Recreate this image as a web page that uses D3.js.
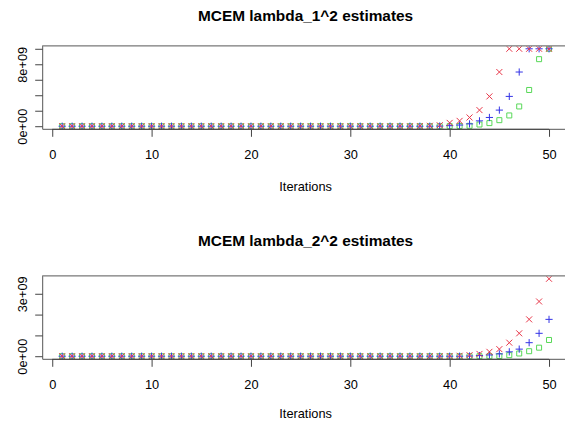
<!DOCTYPE html>
<html>
<head>
<meta charset="utf-8">
<script src="https://cdn.jsdelivr.net/npm/d3@7"></script>
<style>
  body { margin: 0; background: #fff; }
  svg { display: block; }
  text { font-family: "Liberation Sans", Arial, Helvetica, sans-serif; fill: #000; }
</style>
</head>
<body>
<svg id="chart" width="565" height="425"></svg>
<script>
// Iteration numbers shared by both panels
const iterations = [1,2,3,4,5,6,7,8,9,10,11,12,13,14,15,16,17,18,19,20,
                    21,22,23,24,25,26,27,28,29,30,31,32,33,34,35,36,37,38,39,40,
                    41,42,43,44,45,46,47,48,49,50];

// lambda_1^2 estimates per chain (iterations 1..50)
const lambda1Red = [0,0,0,0,0,0,0,0,0,0, 0,0,0,0,0,0,0,0,0,0,
                    0,0,0,0,0,0,0,0,0,0, 0,0,0,0,0,0,0.02e9,0.05e9,0.12e9,0.43e9,
                    0.69e9,1.13e9,2.08e9,3.85e9,7.0e9,1e10,1e10,1e10,1e10,1e10];
const lambda1Blue = [0,0,0,0,0,0,0,0,0,0, 0,0,0,0,0,0,0,0,0,0,
                     0,0,0,0,0,0,0,0,0,0, 0,0,0,0,0,0,0,0,0.02e9,0.07e9,
                     0.15e9,0.3e9,0.69e9,1.13e9,2.08e9,3.85e9,7.0e9,1e10,1e10,1e10];
const lambda1Green = [0,0,0,0,0,0,0,0,0,0, 0,0,0,0,0,0,0,0,0,0,
                      0,0,0,0,0,0,0,0,0,0, 0,0,0,0,0,0,0,0,0,0.01e9,
                      0.02e9,0.05e9,0.22e9,0.4e9,0.78e9,1.39e9,2.55e9,4.68e9,8.66e9,1e10];

// lambda_2^2 estimates per chain (iterations 1..50)
const lambda2Red = [0,0,0,0,0,0,0,0,0,0, 0,0,0,0,0,0,0,0,0,0,
                    0,0,0,0,0,0,0,0,0,0, 0,0,0,0,0,0,0,0,0,0.01e9,
                    0.02e9,0.05e9,0.11e9,0.21e9,0.34e9,0.65e9,1.10e9,1.77e9,2.63e9,3.72e9];
const lambda2Blue = [0,0,0,0,0,0,0,0,0,0, 0,0,0,0,0,0,0,0,0,0,
                     0,0,0,0,0,0,0,0,0,0, 0,0,0,0,0,0,0,0,0,0,
                     0,0.01e9,0.03e9,0.06e9,0.11e9,0.21e9,0.34e9,0.65e9,1.10e9,1.77e9];
const lambda2Green = [0,0,0,0,0,0,0,0,0,0, 0,0,0,0,0,0,0,0,0,0,
                      0,0,0,0,0,0,0,0,0,0, 0,0,0,0,0,0,0,0,0,0,
                      0,0,0,0,0.01e9,0.05e9,0.13e9,0.24e9,0.41e9,0.78e9];

// Axis ticks and their printed labels (empty strings leave a bare tick)
const xTicks = [0, 10, 20, 30, 40, 50];
const y1Ticks = [0, 2e9, 4e9, 6e9, 8e9, 1e10];
const y1TickLabels = ["0e+00", "", "", "", "8e+09", ""];
const y2Ticks = [0, 1e9, 2e9, 3e9];
const y2TickLabels = ["0e+00", "", "", "3e+09"];

const titles = ["MCEM lambda_1^2 estimates", "MCEM lambda_2^2 estimates"];
const xLabel = "Iterations";

const colors = { red: "#e8384a", blue: "#3434e6", green: "#58d858" };

const panels = [
  { title: titles[0], red: lambda1Red, blue: lambda1Blue, green: lambda1Green,
    ticks: y1Ticks, labels: y1TickLabels, boxShift: 0, titleShift: 0, labelShift: 0 },
  { title: titles[1], red: lambda2Red, blue: lambda2Blue, green: lambda2Green,
    ticks: y2Ticks, labels: y2TickLabels, boxShift: 230, titleShift: 225, labelShift: 227 }
];

const svg = d3.select("#chart");
svg.append("rect").attr("width", 565).attr("height", 425).attr("fill", "#fff");

// Plot region (the right edge runs slightly past the canvas)
const left = 42.7, right = 568.5;
const axisFont = 12.8, titleFont = 15.4;

// R-style padded range: extend the data range by 4% on each side
function padded(values) {
  const [lo, hi] = d3.extent(values);
  const pad = (hi - lo) * 0.04;
  return [lo - pad, hi + pad];
}

const x = d3.scaleLinear().domain(padded(iterations)).range([left, right]);

const symbols = {
  plus: "M-3.6,0H3.6M0,-3.6V3.6",
  cross: "M-3,-3L3,3M-3,3L3,-3",
  square: "M-2.5,-2.5H2.5V2.5H-2.5Z"
};

panels.forEach(p => {
  const top = 45.7 + p.boxShift, bottom = 129.3 + p.boxShift;
  const g = svg.append("g");
  const allValues = p.red.concat(p.blue, p.green);
  const y = d3.scaleLinear().domain(padded(allValues)).range([bottom, top]);

  // Title
  g.append("text")
    .attr("x", (left + right) / 2)
    .attr("y", 20.5 + p.titleShift)
    .attr("text-anchor", "middle")
    .style("font-size", titleFont + "px")
    .style("font-weight", "bold")
    .text(p.title);

  // Points: green squares, blue plus signs, red crosses
  const layers = [
    { vals: p.green, sym: symbols.square, col: colors.green },
    { vals: p.blue, sym: symbols.plus, col: colors.blue },
    { vals: p.red, sym: symbols.cross, col: colors.red }
  ];
  const clipId = "clip" + p.boxShift;
  g.append("clipPath").attr("id", clipId)
    .append("rect").attr("x", left).attr("y", top)
    .attr("width", right - left).attr("height", bottom - top);
  const pts = g.append("g").attr("clip-path", `url(#${clipId})`);
  layers.forEach(L => {
    pts.append("g").selectAll("path")
      .data(iterations.map((it, i) => [it, L.vals[i]]))
      .join("path")
      .attr("transform", d => `translate(${x(d[0])},${y(d[1])})`)
      .attr("d", L.sym)
      .attr("fill", "none")
      .attr("stroke", L.col)
      .attr("stroke-width", 1);
  });

  // Frame around the plot region
  g.append("path")
    .attr("d", `M${right},${top}H${left}V${bottom}H${right}`)
    .attr("fill", "none").attr("stroke", "#555").attr("stroke-width", 1);
  g.append("line")
    .attr("x1", left).attr("x2", right).attr("y1", top).attr("y2", top)
    .attr("stroke", "#999").attr("stroke-width", 1.4);

  // x axis
  const xAxis = g.append("g")
    .attr("transform", `translate(0,${bottom})`)
    .call(d3.axisBottom(x).tickValues(xTicks).tickFormat(d3.format("d"))
      .tickSize(7.5).tickPadding(13.1).tickSizeOuter(0));
  xAxis.select(".domain").attr("d", `M${x(xTicks[0])},0H${x(xTicks[xTicks.length - 1])}`)
    .attr("stroke", "#444");
  xAxis.selectAll(".tick line").attr("stroke", "#444");
  xAxis.selectAll("text").style("font-size", axisFont + "px")
    .style("font-family", '"Liberation Sans", Arial, sans-serif');

  // y axis with rotated labels
  const yAxis = g.append("g")
    .attr("transform", `translate(${left},0)`)
    .call(d3.axisLeft(y).tickValues(p.ticks)
      .tickFormat((d, i) => p.labels[i]).tickSize(7.5).tickSizeOuter(0));
  yAxis.select(".domain").remove();
  yAxis.selectAll(".tick line").attr("stroke", "#444");
  yAxis.selectAll("text")
    .attr("x", null).attr("dy", null)
    .attr("transform", "translate(-16,0) rotate(-90)")
    .attr("text-anchor", "middle")
    .style("font-size", axisFont + "px")
    .style("font-family", '"Liberation Sans", Arial, sans-serif');

  // x axis title
  g.append("text")
    .attr("x", (left + right) / 2)
    .attr("y", 190.7 + p.labelShift)
    .attr("text-anchor", "middle")
    .style("font-size", axisFont + "px")
    .text(xLabel);
});
</script>
</body>
</html>
